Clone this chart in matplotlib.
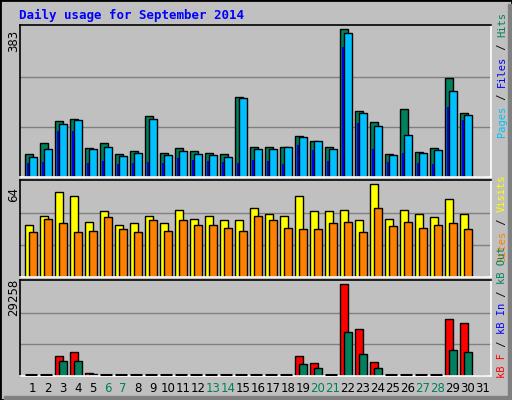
import numpy as np
import matplotlib
matplotlib.use("Agg")
from matplotlib import pyplot as plt
from matplotlib.patches import Rectangle

days = np.arange(1, 32)
hits = [58, 87, 142, 148, 73, 86, 58, 66, 155, 60, 73, 66, 60, 58, 203, 77,
        77, 77, 105, 92, 77, 378, 169, 140, 59, 174, 64, 74, 253, 163, 0]
files = [51, 71, 135, 145, 71, 76, 53, 60, 147, 55, 66, 58, 55, 50, 201, 71,
         71, 77, 102, 92, 71, 368, 163, 130, 55, 107, 61, 69, 220, 158, 0]
pages = [36, 38, 117, 117, 36, 41, 33, 36, 38, 36, 48, 43, 41, 38, 36, 43,
         40, 33, 82, 69, 40, 332, 138, 72, 38, 61, 36, 33, 179, 146, 0]
visits = [35, 41, 57, 54, 37, 44, 35, 36, 41, 36, 45, 39, 41, 38, 38, 46,
          42, 41, 54, 44, 44, 45, 38, 62, 39, 45, 42, 40, 52, 42, 0]
sites = [30, 39, 36, 30, 31, 40, 32, 30, 38, 31, 38, 35, 35, 33, 31, 41,
         38, 33, 32, 32, 36, 37, 30, 46, 34, 37, 33, 35, 36, 32, 0]
kb_f = [0, 0, 6225, 7470, 930, 0, 0, 0, 0, 0, 0, 0, 0, 0, 0, 0,
        0, 0, 6225, 4046, 0, 28324, 14629, 4357, 0, 0, 0, 0, 17741, 16496, 0]
kb_out = [0, 0, 4669, 4669, 620, 0, 0, 0, 0, 0, 0, 0, 0, 0, 0, 0,
          0, 0, 3735, 2490, 0, 13695, 6848, 2490, 0, 0, 0, 0, 8093, 7470, 0]
kb_in = [0, 0, 150, 150, 60, 0, 0, 0, 0, 0, 0, 0, 0, 0, 0, 0,
         0, 0, 150, 120, 0, 300, 200, 120, 0, 0, 0, 0, 200, 200, 0]
weekend = [6, 7, 13, 14, 20, 21, 27, 28]

BG = "#C0C0C0"
GREEN = "#00805C"
CYAN = "#00C0FF"
BLUE = "#0000FF"
mono = "DejaVu Sans Mono"

fig = plt.figure(figsize=(5.12, 4.0), dpi=100, facecolor=BG)
W, H = 512.0, 400.0

def px_axes(x0, y0, x1, y1):
    return fig.add_axes([x0 / W, 1 - y1 / H, (x1 - x0) / W, (y1 - y0) / H])

def style(ax, top):
    ax.set_facecolor(BG)
    ax.set_xlim(0.153, 31.55)
    ax.set_ylim(0, top * 1.013)
    ax.set_xticks([])
    ax.set_yticks([top / 3, 2 * top / 3])
    ax.tick_params(left=False, labelleft=False)
    ax.yaxis.grid(True, color="#808080", lw=1)
    ax.set_axisbelow(True)
    for s in ax.spines.values():
        s.set_linewidth(1.2)
    ax.spines["right"].set_color("white")
    ax.spines["bottom"].set_color("white")

def pair(ax, back, front, cb, cf):
    ax.bar(days - 0.25, back, width=0.53, color=cb, edgecolor="black", lw=1)
    ax.bar(days + 0.015, front, width=0.53, color=cf, edgecolor="black", lw=1)

ax1 = px_axes(20, 25, 491, 177)
style(ax1, 383)
ax1.bar(days - 0.25, hits, width=0.53, color=GREEN, edgecolor="black", lw=1)
ax1.bar(days - 0.29, pages, width=0.17, color=BLUE, lw=0)
ax1.bar(days + 0.015, files, width=0.53, color=CYAN, edgecolor="black", lw=1)

ax2 = px_axes(20, 180, 491, 277)
style(ax2, 64)
pair(ax2, visits, sites, "#FFFF00", "#FF8000")

ax3 = px_axes(20, 280, 491, 376)
style(ax3, 29258)
pair(ax3, kb_f, kb_out, "#FF0000", GREEN)
ax3.bar(days - 0.42, kb_in, width=0.12, color=BLUE, lw=0)
zero = [d for d, v in zip(days, kb_f) if v == 0 and d < 31]
ax3.hlines([200] * len(zero), np.array(zero) - 0.5, np.array(zero) + 0.27,
           colors="black", lw=2.2, zorder=3)

for d in days:
    fig.text((32.7 + (d - 1) * 15) / W, 1 - 388 / H, str(d), ha="center", va="center",
             fontsize=8.5, color=GREEN if d in weekend else "black")

fig.text(19 / W, 1 - 15 / H, "Daily usage for September 2014", color=BLUE,
         fontsize=9, family=mono, fontweight="bold", va="center")

for lbl, y in [("383", 41), ("64", 194), ("29258", 297)]:
    fig.text(14 / W, 1 - y / H, lbl, rotation=90, ha="center", va="center", fontsize=8.5)

# stacked multi-colour side labels, drawn bottom-up
fig.canvas.draw()
renderer = fig.canvas.get_renderer()
groups = [(137, [("Pages", CYAN), (" / ", "black"), ("Files", BLUE), (" / ", "black"), ("Hits", GREEN)]),
          (262, [("Sites", "#FF8000"), (" / ", "black"), ("Visits", "#FFFF00")]),
          (378, [("kB F", "#FF0000"), (" / ", "black"), ("kB In", BLUE), (" / ", "black"), ("kB Out", GREEN)])]
for ystart, parts in groups:
    y = ystart
    for lbl, c in parts:
        t = fig.text(497 / W, 1 - y / H, lbl, rotation=90, ha="left", va="bottom",
                     rotation_mode="default", fontsize=7.5, family=mono, color=c)
        y -= t.get_window_extent(renderer).height

# border with shadow
fig.patches.append(Rectangle((0, 0), 1, 1, transform=fig.transFigure, fill=False, ec="black", lw=2))
fig.patches.append(Rectangle((1 - 4 / W, 0), 4 / W, 1 - 4 / H, transform=fig.transFigure, color="#808080"))
fig.patches.append(Rectangle((4 / W, 0), 1 - 4 / W, 4 / H, transform=fig.transFigure, color="#808080"))

fig.savefig("out.png", dpi=100, facecolor=BG)
